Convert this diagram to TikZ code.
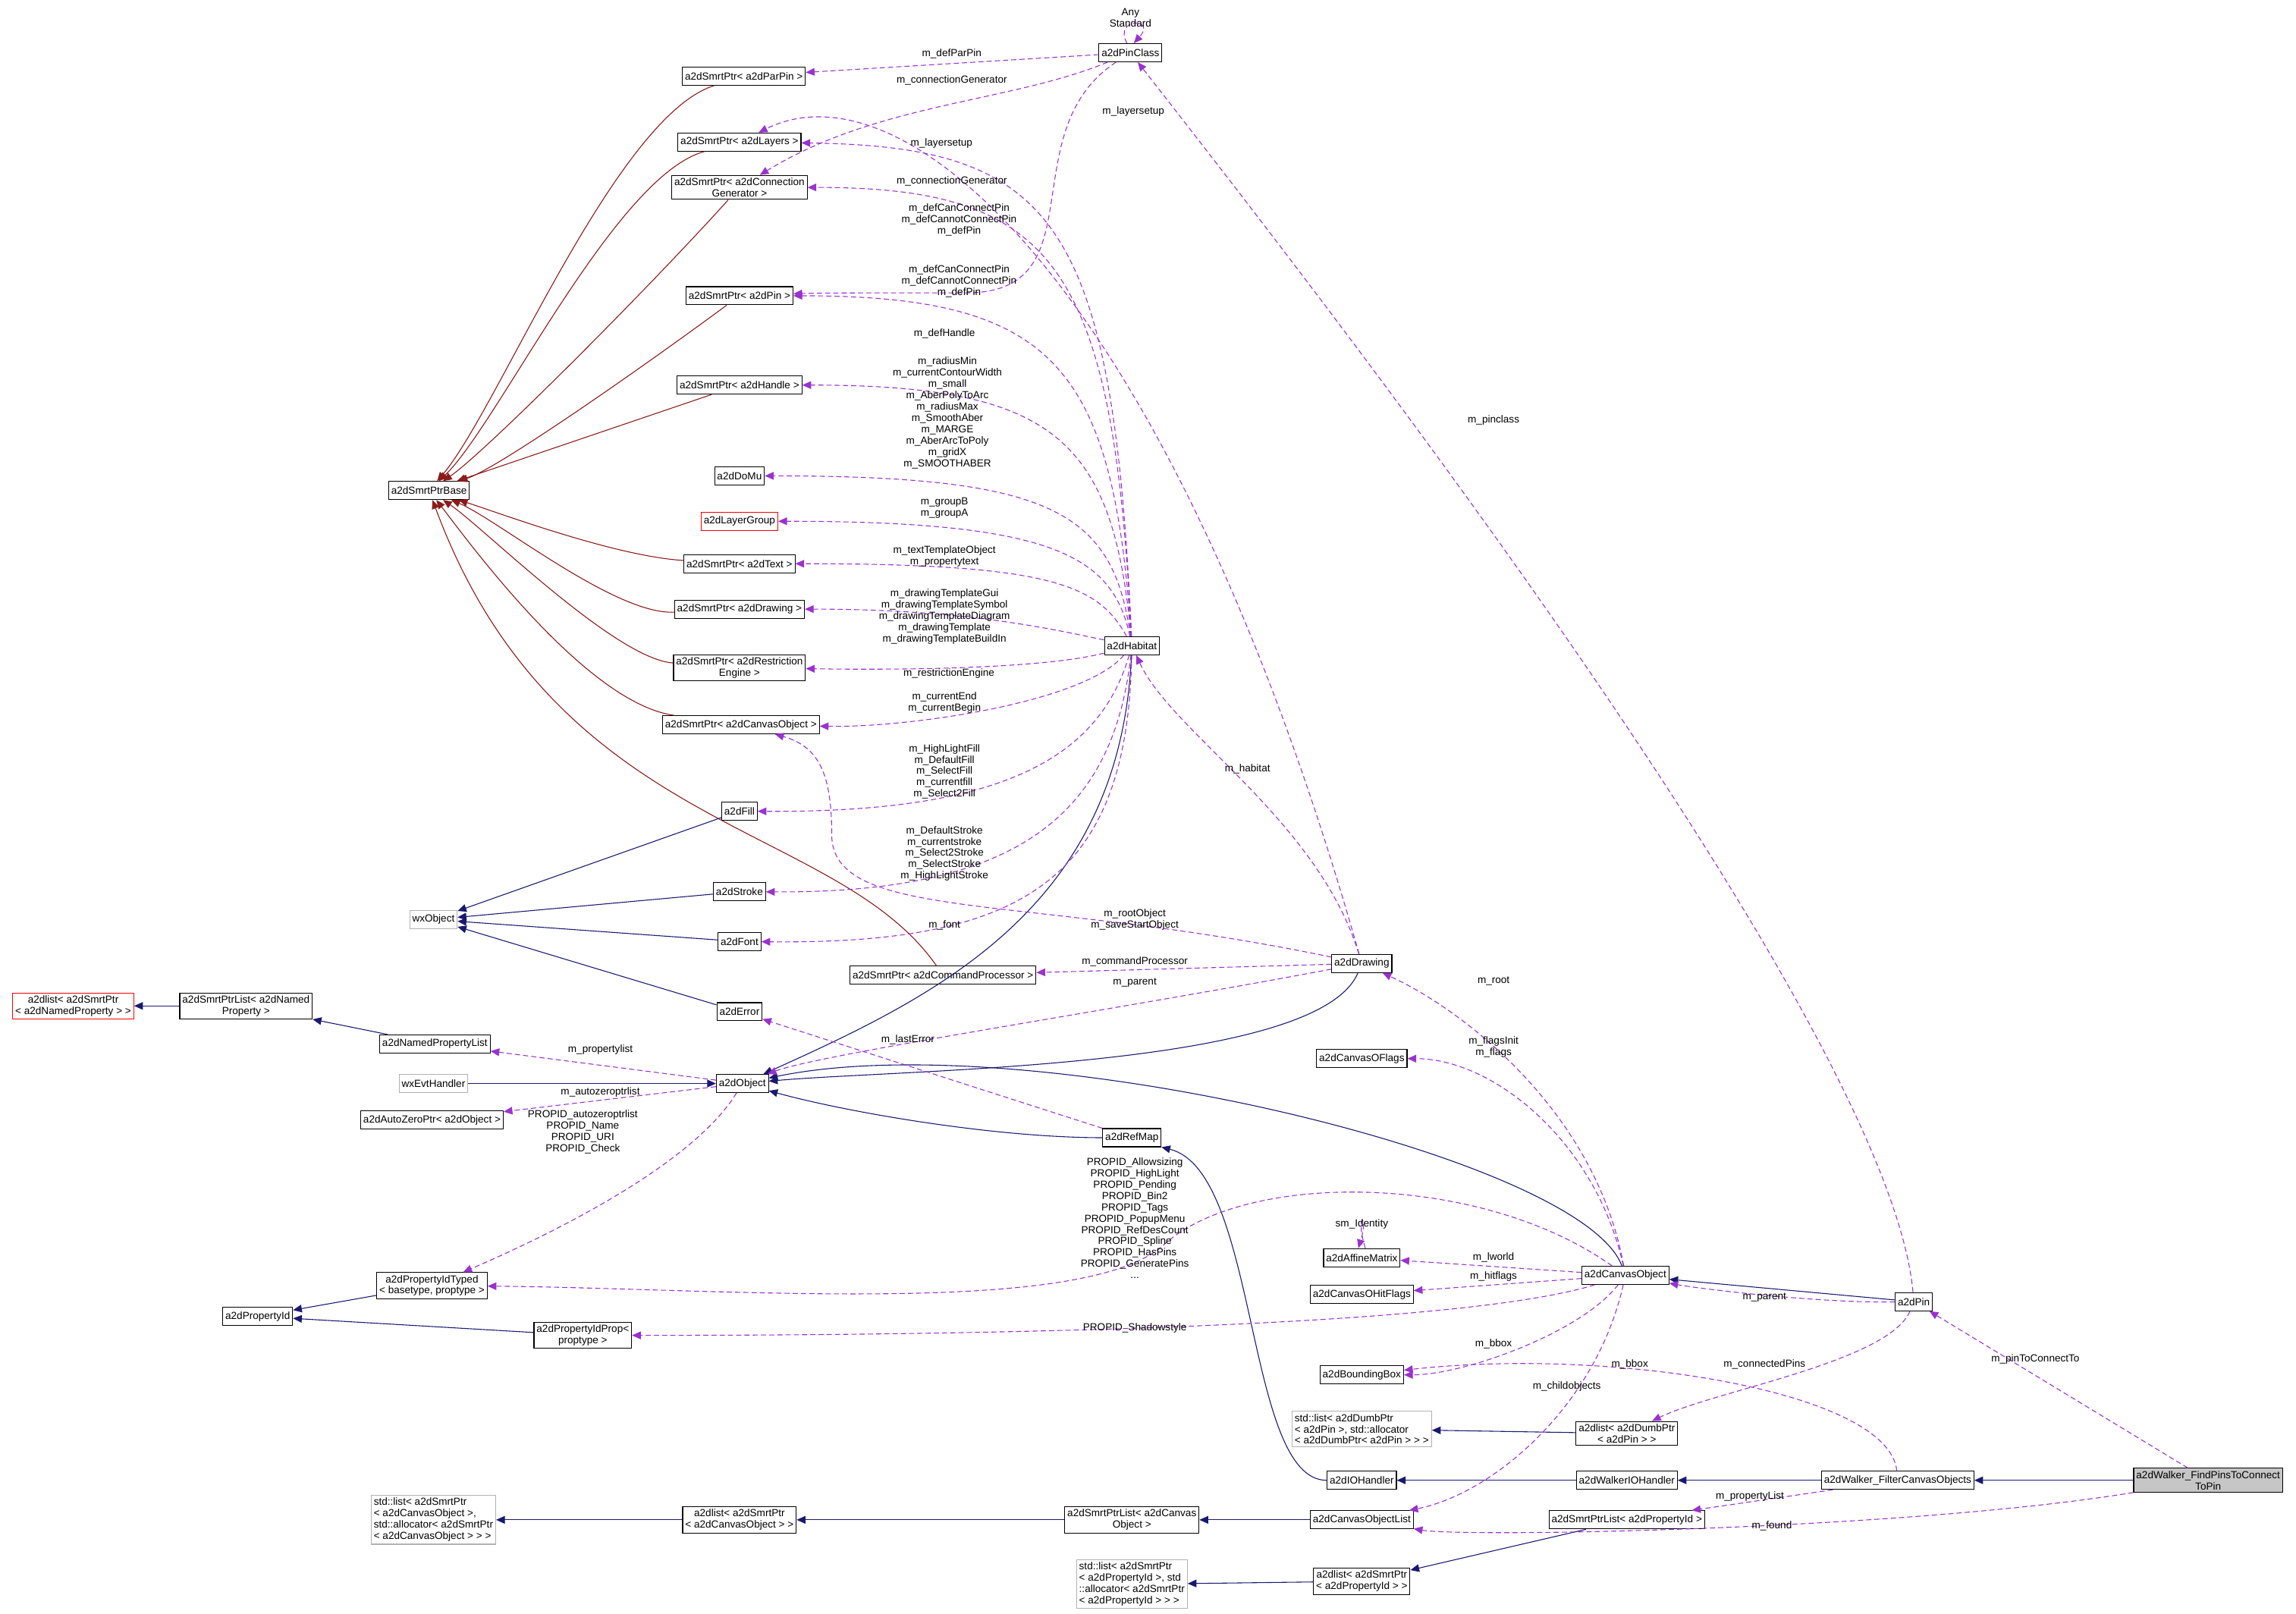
\documentclass[tikz,border=0pt]{standalone}
\usepackage{fontspec}
\setmainfont{Liberation Sans}
\usetikzlibrary{arrows.meta}
\definecolor{nav}{HTML}{191970}
\definecolor{drd}{HTML}{8B1A1A}
\definecolor{pur}{HTML}{9A32CD}
\begin{document}
\begin{tikzpicture}[x=0.05cm,y=-0.05cm,font=\fontsize{10}{11}\selectfont,
 box/.style={draw,thick,inner sep=2.5pt,minimum height=0.62cm,align=center,fill=white},
 gbox/.style={box,draw=gray!60},
 rbox/.style={box,draw=red},
 inhB/.style={draw=nav,thick,-{Triangle[length=0.3cm,width=0.26cm]}},
 inhR/.style={draw=drd,thick,-{Triangle[length=0.3cm,width=0.26cm]}},
 use/.style={draw=pur,thick,dashed,dash pattern=on 5pt off 3pt,-{Triangle[length=0.3cm,width=0.26cm]}},
 lab/.style={align=center,inner sep=0pt}]
\useasboundingbox (0,0) rectangle (1568,1102);
% nodes
\node[box] (pc) at (772,36) {a2dPinClass};
\node[box] (spParPin) at (508,52) {a2dSmrtPtr< a2dParPin >};
\node[box] (spLayers) at (505,97) {a2dSmrtPtr< a2dLayers >};
\node[box] (spConn) at (505,128) {a2dSmrtPtr< a2dConnection\\Generator >};
\node[box] (spPin) at (505,202) {a2dSmrtPtr< a2dPin >};
\node[box] (spHandle) at (505,263) {a2dSmrtPtr< a2dHandle >};
\node[box] (base) at (293,335) {a2dSmrtPtrBase};
\node[box] (domu) at (505,325) {a2dDoMu};
\node[rbox] (lgroup) at (505,356) {a2dLayerGroup};
\node[box] (spText) at (505,385) {a2dSmrtPtr< a2dText >};
\node[box] (spDraw) at (505,416) {a2dSmrtPtr< a2dDrawing >};
\node[box] (spRestr) at (505,456) {a2dSmrtPtr< a2dRestriction\\Engine >};
\node[box] (spCO) at (506,495) {a2dSmrtPtr< a2dCanvasObject >};
\node[box] (fill) at (505,554) {a2dFill};
\node[box] (stroke) at (505,609) {a2dStroke};
\node[gbox] (wxo) at (296,628) {wxObject};
\node[box] (font) at (505,643) {a2dFont};
\node[box] (spCmd) at (644,666) {a2dSmrtPtr< a2dCommandProcessor >};
\node[box] (err) at (505,691) {a2dError};
\node[box] (hab) at (773,441) {a2dHabitat};
\node[box] (drw) at (930,658) {a2dDrawing};
\node[rbox] (lNP) at (50,687) {a2dlist< a2dSmrtPtr\\< a2dNamedProperty > >};
\node[box] (splNP) at (168,687) {a2dSmrtPtrList< a2dNamed\\Property >};
\node[box] (npl) at (297,713) {a2dNamedPropertyList};
\node[gbox] (wxeh) at (296,740) {wxEvtHandler};
\node[box] (obj) at (507,740) {a2dObject};
\node[box] (azp) at (295,765) {a2dAutoZeroPtr< a2dObject >};
\node[box] (oflags) at (930,723) {a2dCanvasOFlags};
\node[box] (refmap) at (773,777) {a2dRefMap};
\node[box] (pidT) at (295,878) {a2dPropertyIdTyped\\< basetype, proptype >};
\node[box] (pid) at (176,899) {a2dPropertyId};
\node[box] (pidP) at (398,912) {a2dPropertyIdProp<\\proptype >};
\node[box] (aff) at (930,859) {a2dAffineMatrix};
\node[box] (hitf) at (930,884) {a2dCanvasOHitFlags};
\node[box] (co) at (1110,871) {a2dCanvasObject};
\node[box] (pin) at (1307,889) {a2dPin};
\node[box] (bbox) at (930,939) {a2dBoundingBox};
\node[gbox,align=left] (stdDP) at (930,976) {std::list< a2dDumbPtr\\< a2dPin >, std::allocator\\< a2dDumbPtr< a2dPin > > >};
\node[box] (lDP) at (1111,979) {a2dlist< a2dDumbPtr\\< a2dPin > >};
\node[box] (ioh) at (930,1011) {a2dIOHandler};
\node[box] (wioh) at (1111,1011) {a2dWalkerIOHandler};
\node[box] (filt) at (1296,1011) {a2dWalker\_FilterCanvasObjects};
\node[box,fill=gray!45] (find) at (1508,1011) {a2dWalker\_FindPinsToConnect\\ToPin};
\node[gbox,align=left] (stdCO) at (296,1038) {std::list< a2dSmrtPtr\\< a2dCanvasObject >,\\std::allocator< a2dSmrtPtr\\< a2dCanvasObject > > >};
\node[box] (lCO) at (505,1038) {a2dlist< a2dSmrtPtr\\< a2dCanvasObject > >};
\node[box] (splCO) at (773,1038) {a2dSmrtPtrList< a2dCanvas\\Object >};
\node[box] (col) at (930,1038) {a2dCanvasObjectList};
\node[box] (splPI) at (1111,1038) {a2dSmrtPtrList< a2dPropertyId >};
\node[gbox,align=left] (stdPI) at (773,1082) {std::list< a2dSmrtPtr\\< a2dPropertyId >, std\\::allocator< a2dSmrtPtr\\< a2dPropertyId > > >};
\node[box] (lPI) at (930,1080) {a2dlist< a2dSmrtPtr\\< a2dPropertyId > >};
% dark red inheritance
\draw[inhR] (spParPin) .. controls (420,80) and (340,280) .. (base);
\draw[inhR] (spLayers) .. controls (420,120) and (340,290) .. (base);
\draw[inhR] (spConn) .. controls (440,200) and (330,310) .. (base);
\draw[inhR] (spPin) .. controls (440,250) and (340,320) .. (base);
\draw[inhR] (spHandle) -- (base);
\draw[inhR] (spText) .. controls (420,380) and (340,350) .. (base);
\draw[inhR] (spDraw) .. controls (420,420) and (340,355) .. (base);
\draw[inhR] (spRestr) .. controls (420,450) and (330,360) .. (base);
\draw[inhR] (spCO) .. controls (400,480) and (320,370) .. (base);
\draw[inhR] (spCmd) .. controls (570,560) and (380,570) .. (base);
% navy inheritance
\draw[inhB] (fill) -- (wxo);
\draw[inhB] (stroke) -- (wxo);
\draw[inhB] (font) -- (wxo);
\draw[inhB] (err) -- (wxo);
\draw[inhB] (wxeh) -- (obj);
\draw[inhB] (hab) .. controls (765,620) and (640,680) .. (obj);
\draw[inhB] (drw) .. controls (900,730) and (620,730) .. (obj);
\draw[inhB] (refmap.west) .. controls (680,777) and (580,760) .. (obj);
\draw[inhB] (co) .. controls (1080,790) and (700,700) .. (obj);
\draw[inhB] (splNP) -- (lNP);
\draw[inhB] (npl) -- (splNP);
\draw[inhB] (pidT) -- (pid);
\draw[inhB] (pidP) -- (pid);
\draw[inhB] (ioh.west) .. controls (850,1011) and (860,800) .. (refmap.south east);
\draw[inhB] (wioh) -- (ioh);
\draw[inhB] (filt) -- (wioh);
\draw[inhB] (find) -- (filt);
\draw[inhB] (pin) -- (co);
\draw[inhB] (lDP) -- (stdDP);
\draw[inhB] (lCO) -- (stdCO);
\draw[inhB] (splCO) -- (lCO);
\draw[inhB] (col) -- (splCO);
\draw[inhB] (lPI) -- (stdPI);
\draw[inhB] (splPI) -- (lPI);
% purple usage
\draw[use] (pc.110) .. controls (760,12) and (790,12) .. (pc.70);
\draw[use] (pc) -- (spParPin);
\draw[use] (pc) .. controls (690,70) and (600,70) .. (spConn);
\draw[use] (pc) .. controls (690,90) and (750,200) .. (660,200) .. controls (600,200) and (560,200) .. (spPin);
\draw[use] (drw) .. controls (800,200) and (620,40) .. (spLayers);
\draw[use] (hab) .. controls (760,150) and (720,100) .. (spLayers);
\draw[use] (hab) .. controls (760,180) and (720,128) .. (spConn);
\draw[use] (hab) .. controls (760,250) and (720,202) .. (spPin);
\draw[use] (hab) .. controls (760,300) and (720,263) .. (spHandle);
\draw[use] (hab) .. controls (760,350) and (720,325) .. (domu);
\draw[use] (hab) .. controls (760,380) and (720,356) .. (lgroup);
\draw[use] (hab) .. controls (750,400) and (720,385) .. (spText);
\draw[use] (hab) .. controls (720,430) and (660,416) .. (spDraw);
\draw[use] (hab) .. controls (720,455) and (640,458) .. (spRestr);
\draw[use] (hab) .. controls (740,480) and (620,497) .. (spCO);
\draw[use] (hab) .. controls (750,520) and (680,555) .. (fill);
\draw[use] (hab) .. controls (760,560) and (690,610) .. (stroke);
\draw[use] (hab) .. controls (770,600) and (700,645) .. (font);
\draw[use] (drw) .. controls (700,610) and (568,630) .. (568,570) .. controls (568,530) and (560,510) .. (spCO);
\draw[use] (drw) -- (spCmd);
\draw[use] (drw) .. controls (760,690) and (560,720) .. (obj);
\draw[use] (drw) .. controls (900,560) and (800,500) .. (hab);
\draw[use] (co) .. controls (1090,760) and (1000,690) .. (drw);
\draw[use] (co) .. controls (1090,780) and (1020,723) .. (oflags);
\draw[use] (co) -- (aff);
\draw[use] (aff.70) .. controls (925,828) and (935,828) .. (aff.110);
\draw[use] (co) -- (hitf);
\draw[use] (co) .. controls (1080,910) and (1000,939) .. (bbox);
\draw[use] (co) .. controls (1090,960) and (1020,1020) .. (col);
\draw[use] (co) .. controls (1010,800) and (850,800) .. (795,850) .. controls (740,900) and (500,880) .. (pidT);
\draw[use] (co) .. controls (1000,905) and (700,912) .. (pidP);
\draw[use] (obj) -- (npl);
\draw[use] (obj) -- (azp);
\draw[use] (obj) .. controls (470,800) and (360,850) .. (pidT);
\draw[use] (refmap) -- (err);
\draw[use] (pin) .. controls (1290,700) and (900,200) .. (pc);
\draw[use] (pin) .. controls (1240,890) and (1160,880) .. (co);
\draw[use] (pin) .. controls (1290,930) and (1170,950) .. (lDP);
\draw[use] (filt) .. controls (1290,950) and (1100,920) .. (bbox);
\draw[use] (filt) -- (splPI);
\draw[use] (find) -- (pin);
\draw[use] (find) .. controls (1300,1045) and (1000,1050) .. (col);
% labels
\node[lab] at (772,12) {Any\\Standard};
\node[lab] at (650,37) {m\_defParPin};
\node[lab] at (650,55) {m\_connectionGenerator};
\node[lab] at (774,76) {m\_layersetup};
\node[lab] at (643,98) {m\_layersetup};
\node[lab] at (650,124) {m\_connectionGenerator};
\node[lab] at (655,150) {m\_defCanConnectPin\\m\_defCannotConnectPin\\m\_defPin};
\node[lab] at (655,192) {m\_defCanConnectPin\\m\_defCannotConnectPin\\m\_defPin};
\node[lab] at (645,228) {m\_defHandle};
\node[lab] at (647,282) {m\_radiusMin\\m\_currentContourWidth\\m\_small\\m\_AberPolyToArc\\m\_radiusMax\\m\_SmoothAber\\m\_MARGE\\m\_AberArcToPoly\\m\_gridX\\m\_SMOOTHABER};
\node[lab] at (645,347) {m\_groupB\\m\_groupA};
\node[lab] at (645,380) {m\_textTemplateObject\\m\_propertytext};
\node[lab] at (645,421) {m\_drawingTemplateGui\\m\_drawingTemplateSymbol\\m\_drawingTemplateDiagram\\m\_drawingTemplate\\m\_drawingTemplateBuildIn};
\node[lab] at (648,460) {m\_restrictionEngine};
\node[lab] at (645,480) {m\_currentEnd\\m\_currentBegin};
\node[lab] at (645,527) {m\_HighLightFill\\m\_DefaultFill\\m\_SelectFill\\m\_currentfill\\m\_Select2Fill};
\node[lab] at (645,583) {m\_DefaultStroke\\m\_currentstroke\\m\_Select2Stroke\\m\_SelectStroke\\m\_HighLightStroke};
\node[lab] at (645,632) {m\_font};
\node[lab] at (775,628) {m\_rootObject\\m\_saveStartObject};
\node[lab] at (775,657) {m\_commandProcessor};
\node[lab] at (775,671) {m\_parent};
\node[lab] at (852,525) {m\_habitat};
\node[lab] at (1020,287) {m\_pinclass};
\node[lab] at (1020,670) {m\_root};
\node[lab] at (1020,715) {m\_flagsInit\\m\_flags};
\node[lab] at (930,836) {sm\_Identity};
\node[lab] at (1020,859) {m\_lworld};
\node[lab] at (1020,872) {m\_hitflags};
\node[lab] at (775,832) {PROPID\_Allowsizing\\PROPID\_HighLight\\PROPID\_Pending\\PROPID\_Bin2\\PROPID\_Tags\\PROPID\_PopupMenu\\PROPID\_RefDesCount\\PROPID\_Spline\\PROPID\_HasPins\\PROPID\_GeneratePins\\...};
\node[lab] at (775,907) {PROPID\_Shadowstyle};
\node[lab] at (410,717) {m\_propertylist};
\node[lab] at (410,746) {m\_autozeroptrlist};
\node[lab] at (398,773) {PROPID\_autozeroptrlist\\PROPID\_Name\\PROPID\_URI\\PROPID\_Check};
\node[lab] at (620,710) {m\_lastError};
\node[lab] at (1205,886) {m\_parent};
\node[lab] at (1205,932) {m\_connectedPins};
\node[lab] at (1020,918) {m\_bbox};
\node[lab] at (1070,947) {m\_childobjects};
\node[lab] at (1113,932) {m\_bbox};
\node[lab] at (1390,928) {m\_pinToConnectTo};
\node[lab] at (1195,1022) {m\_propertyList};
\node[lab] at (1210,1042) {m\_found};
\end{tikzpicture}
\end{document}
